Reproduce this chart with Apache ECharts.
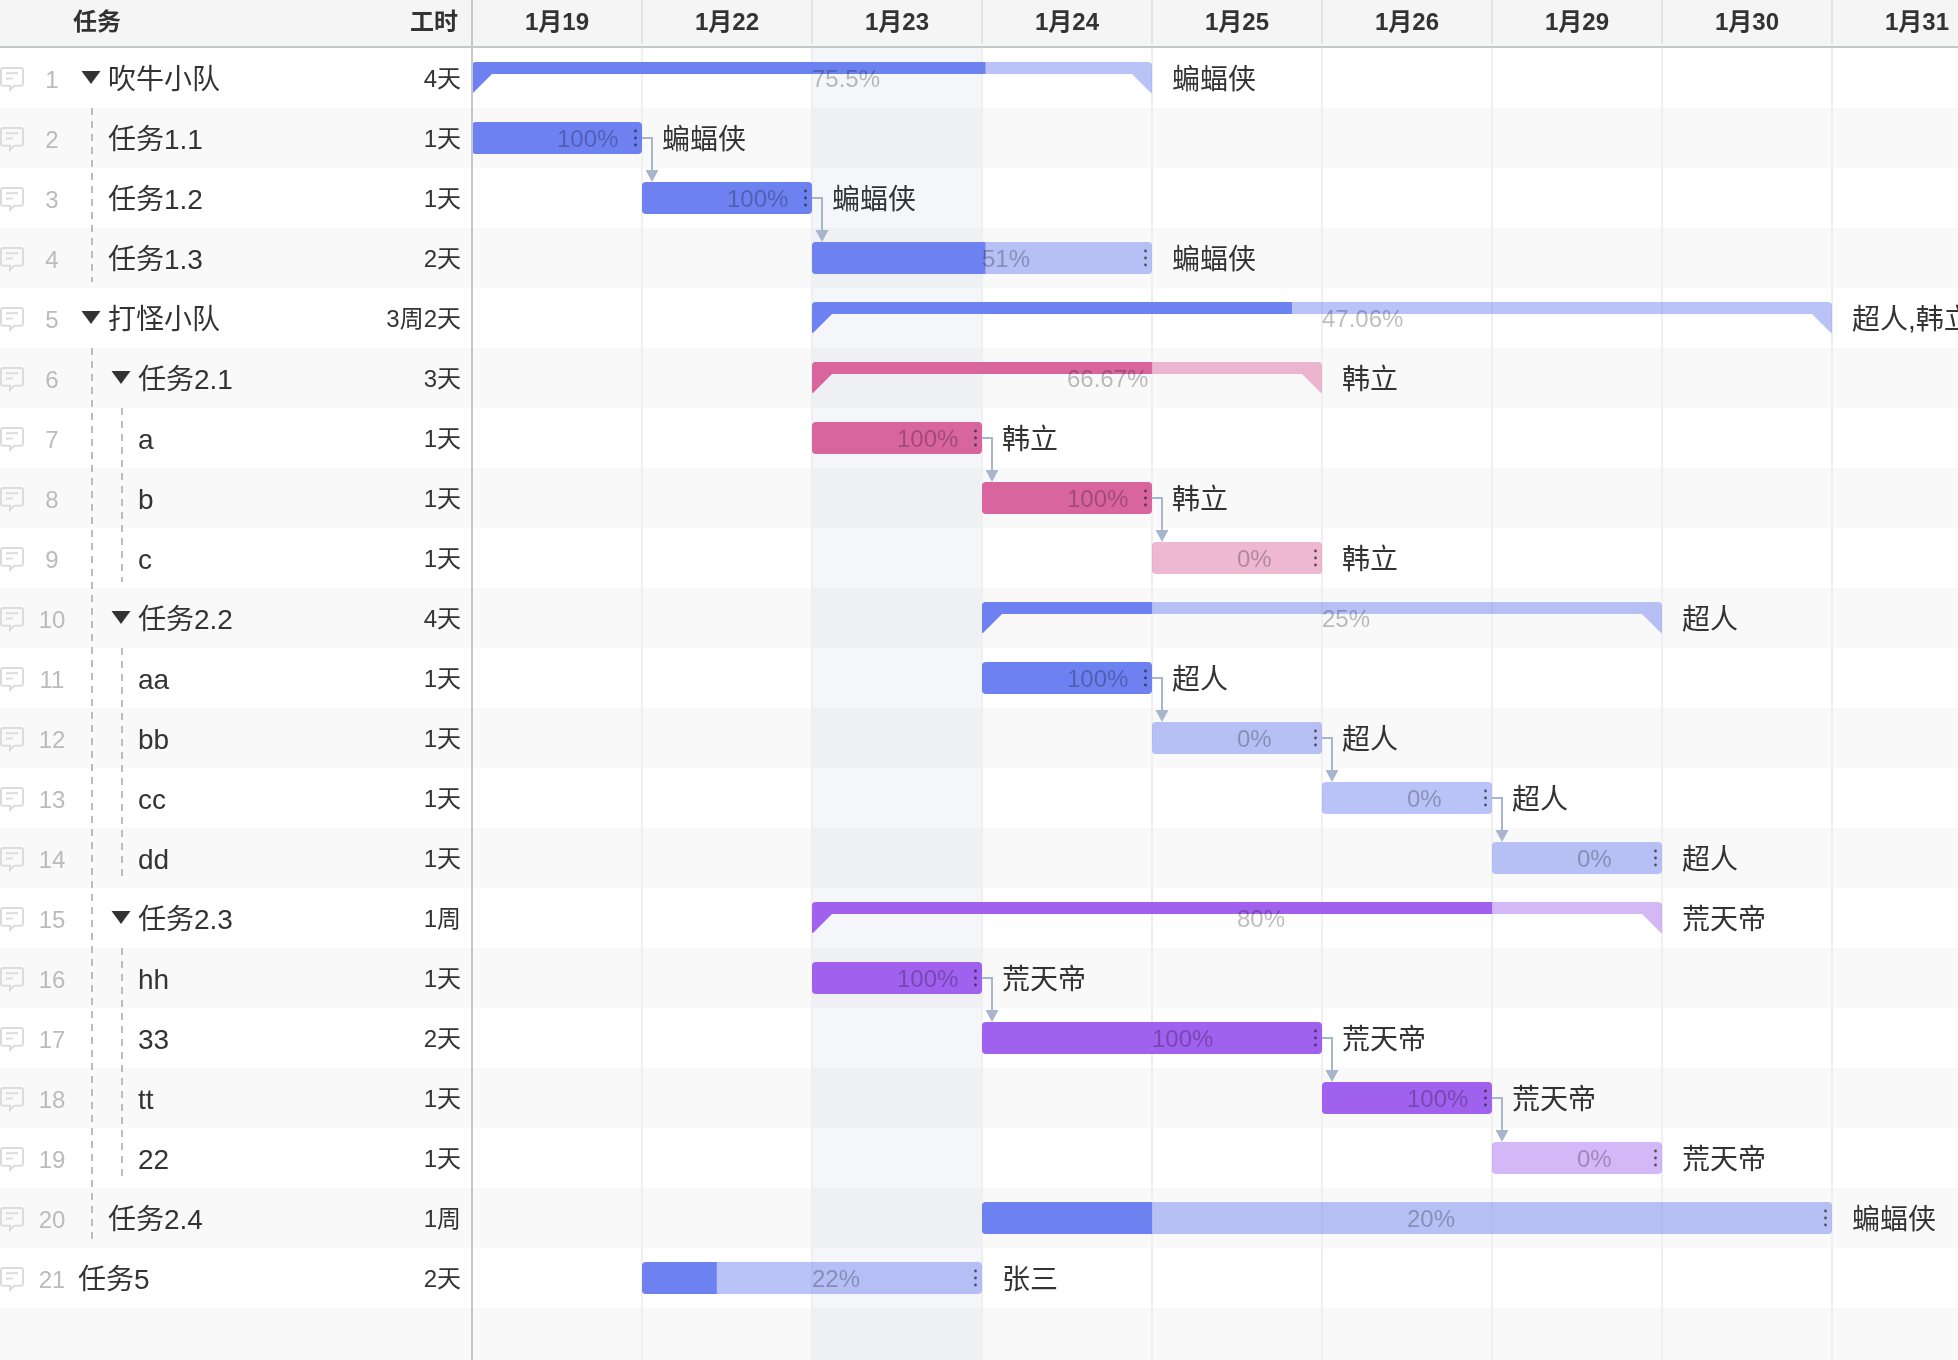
<!DOCTYPE html>
<html>
<head>
<meta charset="utf-8">
<title>甘特图</title>
<style>
  html, body { margin: 0; padding: 0; background: #fff; }
  #chart { width: 1958px; height: 1360px; overflow: hidden; }
</style>
<script src="https://cdn.jsdelivr.net/npm/echarts@6/dist/echarts.min.js"></script>
</head>
<body>
<div id="chart"></div>
<script>
// 表头日期（只有工作日）
const dateLabels = ["1月19", "1月22", "1月23", "1月24", "1月25", "1月26", "1月29", "1月30", "1月31"];
const todayColumn = 2;

const taskNames = ["吹牛小队", "任务1.1", "任务1.2", "任务1.3", "打怪小队", "任务2.1", "a", "b", "c", "任务2.2", "aa", "bb", "cc", "dd", "任务2.3", "hh", "33", "tt", "22", "任务2.4", "任务5"];
const taskLevels = [1, 1, 1, 1, 1, 2, 2, 2, 2, 2, 2, 2, 2, 2, 2, 2, 2, 2, 2, 1, 0];
const taskHours = ["4天", "1天", "1天", "2天", "3周2天", "3天", "1天", "1天", "1天", "4天", "1天", "1天", "1天", "1天", "1周", "1天", "2天", "1天", "1天", "1周", "2天"];
const startColumns = [0, 0, 1, 2, 2, 2, 2, 3, 4, 3, 3, 4, 5, 6, 2, 2, 3, 5, 6, 3, 1];
const endColumns = [4, 1, 2, 4, 8, 5, 3, 4, 5, 7, 4, 5, 6, 7, 7, 3, 5, 6, 7, 8, 3];
const progress = [75.5, 100, 100, 51, 47.06, 66.67, 100, 100, 0, 25, 100, 0, 0, 0, 80, 100, 100, 100, 0, 20, 22];
const owners = ["蝙蝠侠", "蝙蝠侠", "蝙蝠侠", "蝙蝠侠", "超人,韩立", "韩立", "韩立", "韩立", "韩立", "超人", "超人", "超人", "超人", "超人", "荒天帝", "荒天帝", "荒天帝", "荒天帝", "荒天帝", "蝙蝠侠", "张三"];
const barThemes = ["blue", "blue", "blue", "blue", "blue", "pink", "pink", "pink", "pink", "blue", "blue", "blue", "blue", "blue", "purple", "purple", "purple", "purple", "purple", "blue", "blue"];
const groupRows = [0, 4, 5, 9, 14];
// 依赖关系：[前置任务行, 后续任务行]
const links = [[1, 2], [2, 3], [6, 7], [7, 8], [10, 11], [11, 12], [12, 13], [15, 16], [16, 17], [17, 18]];
// 树形虚线：[层级, 起始行, 结束行]
const guides = [[1, 1, 3], [1, 5, 19], [2, 6, 8], [2, 10, 13], [2, 15, 18]];

const themeColors = {
  blue: { dark: "#6e81f1", light: "rgba(110,129,241,0.48)" },
  pink: { dark: "#d9659e", light: "rgba(217,101,158,0.46)" },
  purple: { dark: "#a061ee", light: "rgba(160,97,238,0.46)" }
};
const fontFamily = '"Liberation Sans","Noto Sans CJK SC",sans-serif';
const nameOffsets = [78, 108, 138]; // 任务名按层级缩进
const guideOffsets = { 1: 92, 2: 122 };
const rowIds = taskNames.map((_, i) => i).concat(taskNames.length); // 最后多一行空白
const iconPath = "M3 1h18a2 2 0 0 1 2 2v13a2 2 0 0 1-2 2h-7l-4 4v-4H3a2 2 0 0 1-2-2V3a2 2 0 0 1 2-2z M6 6h12 M6 11h7";

function textItem(text, x, y, size, fill, align, weight) {
  return {
    type: "text",
    style: {
      text: text, x: x, y: y, fill: fill, align: align || "left", verticalAlign: "middle",
      fontSize: size, fontFamily: fontFamily, fontWeight: weight || "normal"
    }
  };
}

function renderStripe(params, api) {
  const row = api.value(1);
  if (row % 2 === 0) return null;
  const cs = params.coordSys;
  const y = api.coord([0, row])[1];
  const h = api.size([0, 1])[1];
  return { type: "rect", shape: { x: cs.x, y: y - h / 2, width: cs.width, height: h }, style: { fill: "#f9f9f9" } };
}

function renderToday(params, api) {
  const cs = params.coordSys;
  const x0 = api.coord([api.value(0), 0])[0];
  const x1 = api.coord([api.value(0) + 1, 0])[0];
  return { type: "rect", shape: { x: x0, y: cs.y, width: x1 - x0, height: cs.height }, style: { fill: "rgba(90,105,145,0.06)" } };
}

function renderTableRow(params, api) {
  const i = api.value(1);
  const y = api.coord([0, i])[1];
  const left = params.coordSys.x;
  const children = [
    {
      type: "path",
      shape: { pathData: iconPath, layout: "cover", x: left + 1, y: y - 10, width: 22, height: 22 },
      style: { fill: "none", stroke: "#dcdcdc", lineWidth: 2 }
    },
    textItem(String(i + 1), left + 52, y + 3, 24, "#bbbbbb", "center"),
    textItem(taskNames[i], left + nameOffsets[taskLevels[i]], y + 3, 28, "#333333"),
    textItem(taskHours[i], left + 461, y + 2, 24, "#333333", "right")
  ];
  if (groupRows.indexOf(i) >= 0) {
    const ax = left + nameOffsets[taskLevels[i]] - 17;
    children.push({
      type: "polygon",
      shape: { points: [[ax - 9.5, y - 7], [ax + 9.5, y - 7], [ax, y + 6]] },
      style: { fill: "#333333" }
    });
  }
  return { type: "group", children: children };
}

function renderGuide(params, api) {
  const x = params.coordSys.x + guideOffsets[api.value(0)];
  const h = api.size([0, 1])[1];
  const y0 = api.coord([0, api.value(1)])[1] - h / 2;
  const y1 = api.coord([0, api.value(2)])[1] + h / 2 - 6;
  return {
    type: "line",
    shape: { x1: x, y1: y0, x2: x, y2: y1 },
    style: { stroke: "#bdbdbd", lineWidth: 2, lineDash: [7, 6] }
  };
}

function renderLink(params, api) {
  const from = api.value(0);
  const to = api.value(1);
  const x = api.coord([endColumns[from], from])[0];
  const y0 = api.coord([0, from])[1];
  const y1 = api.coord([0, to])[1] - 16;
  const color = "#a8b6cd";
  return {
    type: "group",
    children: [
      {
        type: "polyline",
        shape: { points: [[x, y0], [x + 10, y0], [x + 10, y1 - 10]] },
        style: { fill: "none", stroke: color, lineWidth: 2 }
      },
      {
        type: "polygon",
        shape: { points: [[x + 3.5, y1 - 12], [x + 16.5, y1 - 12], [x + 10, y1]] },
        style: { fill: color }
      }
    ]
  };
}

function renderBar(params, api) {
  const i = api.value(2);
  const pct = api.value(3);
  const x0 = api.coord([api.value(0), i])[0];
  const x1 = api.coord([api.value(1), i])[0];
  const y = api.coord([0, i])[1];
  const xp = api.coord([api.value(0) + (api.value(1) - api.value(0)) * pct / 100, i])[0];
  const color = themeColors[barThemes[i]];
  const label = textItem(pct + "%", (x0 + x1) / 2, y + 2, 24, "rgba(0,0,0,0.26)");
  const owner = textItem(owners[i], x1 + 20, y + 3, 28, "#333333");
  const children = [];
  const top = y - 16;
  if (groupRows.indexOf(i) >= 0) {
    children.push(
      { type: "rect", shape: { x: x0, y: top, width: x1 - x0, height: 12, r: [4, 4, 0, 0] }, style: { fill: color.light } },
      { type: "polygon", shape: { points: [[x1, top + 12], [x1 - 20, top + 12], [x1 - 1.5, top + 30.5], [x1, top + 31]] }, style: { fill: color.light } },
      { type: "rect", shape: { x: x0, y: top, width: xp - x0, height: 12, r: [4, 0, 0, 0] }, style: { fill: color.dark } },
      { type: "polygon", shape: { points: [[x0, top + 12], [x0 + 20, top + 12], [x0 + 1.5, top + 30.5], [x0, top + 31]] }, style: { fill: color.dark } }
    );
  } else {
    children.push({ type: "rect", shape: { x: x0, y: top, width: x1 - x0, height: 32, r: 4 }, style: { fill: pct >= 100 ? color.dark : color.light } });
    if (pct > 0 && pct < 100) {
      children.push({ type: "rect", shape: { x: x0, y: top, width: xp - x0, height: 32, r: [4, 0, 0, 4] }, style: { fill: color.dark } });
    }
    [-7, 0, 7].forEach(function (dy) {
      children.push({ type: "circle", shape: { cx: x1 - 6.5, cy: y + dy, r: 1.4 }, style: { fill: "rgba(40,40,50,0.75)" } });
    });
  }
  children.push(label, owner);
  return { type: "group", children: children };
}

const chart = echarts.init(document.getElementById("chart"), null, { renderer: "canvas" });
chart.setOption({
  animation: false,
  backgroundColor: "#ffffff",
  textStyle: { fontFamily: fontFamily },
  grid: [
    { left: 0, top: 48, width: 472, height: 1320, outerBoundsMode: "none" },
    { left: 472, top: 48, width: 1530, height: 1320, outerBoundsMode: "none" }
  ],
  xAxis: [
    { gridIndex: 0, type: "value", min: 0, max: 472, show: false },
    { gridIndex: 1, type: "value", min: 0, max: dateLabels.length, show: false },
    {
      gridIndex: 1,
      type: "category",
      position: "top",
      offset: 4,
      data: dateLabels,
      axisLine: { show: false },
      axisTick: { show: true, length: 44, lineStyle: { color: "#e3e3e3", width: 2 } },
      axisLabel: { interval: 0, margin: 9, color: "#333333", fontSize: 24, fontWeight: "bold", fontFamily: fontFamily },
      splitLine: { show: true, interval: 0, lineStyle: { color: "#efefef", width: 2 } }
    }
  ],
  yAxis: [
    { gridIndex: 0, type: "category", inverse: true, data: rowIds, show: false },
    { gridIndex: 1, type: "category", inverse: true, data: rowIds, show: false }
  ],
  graphic: {
    elements: [
      { type: "rect", z: -10, silent: true, shape: { x: 0, y: 0, width: 1958, height: 46 }, style: { fill: "#f5f5f5" } },
      { type: "rect", z: 20, silent: true, shape: { x: 0, y: 46, width: 1958, height: 2 }, style: { fill: "#c4cac9" } },
      { type: "rect", z: 20, silent: true, shape: { x: 471, y: 0, width: 2, height: 1360 }, style: { fill: "#c4cac9" } },
      { type: "text", z: 20, silent: true, style: { text: "任务", x: 73, y: 23, fill: "#333333", verticalAlign: "middle", fontSize: 24, fontWeight: "bold", fontFamily: fontFamily } },
      { type: "text", z: 20, silent: true, style: { text: "工时", x: 458, y: 23, fill: "#333333", align: "right", verticalAlign: "middle", fontSize: 24, fontWeight: "bold", fontFamily: fontFamily } }
    ]
  },
  series: [
    {
      type: "custom", name: "stripes-left", xAxisIndex: 0, yAxisIndex: 0, z: -3, silent: true,
      encode: { x: 0, y: 1 }, data: rowIds.map(i => [0, i]), renderItem: renderStripe
    },
    {
      type: "custom", name: "stripes-right", xAxisIndex: 1, yAxisIndex: 1, z: -3, silent: true,
      encode: { x: 0, y: 1 }, data: rowIds.map(i => [0, i]), renderItem: renderStripe
    },
    {
      type: "custom", name: "today", xAxisIndex: 1, yAxisIndex: 1, z: -2, silent: true,
      encode: { x: 0, y: 1 }, data: [[todayColumn, 0]], renderItem: renderToday
    },
    {
      type: "custom", name: "guides", xAxisIndex: 0, yAxisIndex: 0, z: 1, silent: true,
      encode: { x: 0, y: [1, 2] }, data: guides, renderItem: renderGuide
    },
    {
      type: "custom", name: "table", xAxisIndex: 0, yAxisIndex: 0, z: 2, silent: true,
      encode: { x: 0, y: 1 }, data: taskNames.map((_, i) => [0, i]), renderItem: renderTableRow
    },
    {
      type: "custom", name: "links", xAxisIndex: 1, yAxisIndex: 1, z: 2, silent: true,
      encode: { x: 0, y: 1 }, data: links, renderItem: renderLink
    },
    {
      type: "custom", name: "bars", xAxisIndex: 1, yAxisIndex: 1, z: 3, silent: true,
      encode: { x: [0, 1], y: 2 },
      data: taskNames.map((_, i) => [startColumns[i], endColumns[i], i, progress[i]]),
      renderItem: renderBar
    }
  ]
});
</script>
</body>
</html>
